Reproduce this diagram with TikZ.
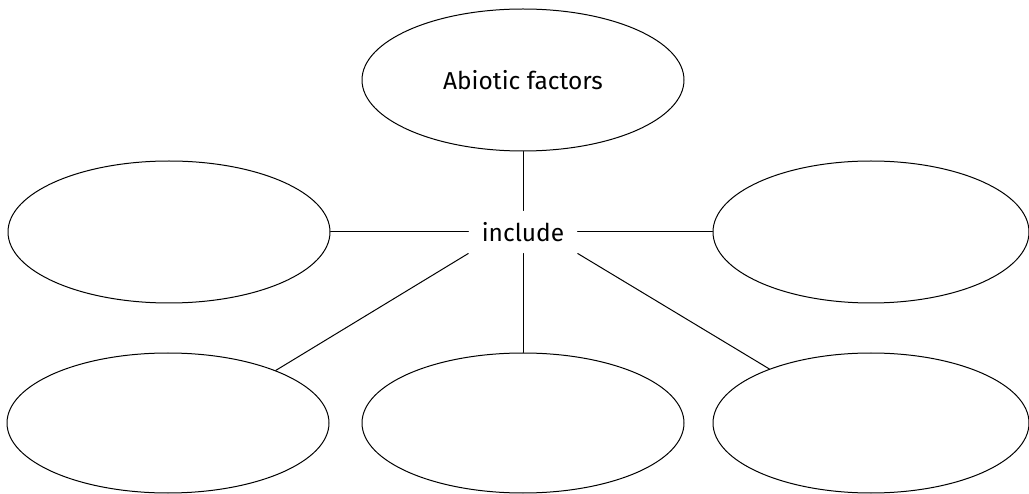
\documentclass[tikz,border=0pt]{standalone}
\usepackage{fontspec}
\setmainfont{Fira Sans}
\usetikzlibrary{shapes.geometric}
\begin{document}
\begin{tikzpicture}[x=1pt,y=-1pt,line join=round,line cap=round,line width=1pt,font=\fontsize{24.5}{28}\selectfont,
	bub/.style={draw,ellipse,inner sep=0pt,minimum width=322pt,minimum height=142pt}]
	\useasboundingbox (0,0) rectangle (1029,494);
	% ellipses
	\node[bub] (abio) at (523,80) {Abiotic factors};
	\node[bub] (ml) at (169,232) {};
	\node[bub,minimum width=316pt] (mr) at (871,232) {};
	\node[bub,minimum height=140pt] (bl) at (168,423) {};
	\node[bub,minimum height=140pt] (bm) at (523,423) {};
	\node[bub,minimum width=316pt,minimum height=140pt] (br) at (871,423) {};
	% linking word
	\node[inner xsep=13pt,inner ysep=0pt,minimum height=42pt] (inc) at (523,232) {include};
	\draw (abio.south)--(inc.north);
	\draw (ml.east)--(inc.west);
	\draw (inc.east)--(mr.west);
	\draw (inc.south)--(bm.north);
	\draw (inc.south west)--(bl.26);
	\draw (inc.south east)--(br.152);
\end{tikzpicture}
\end{document}
